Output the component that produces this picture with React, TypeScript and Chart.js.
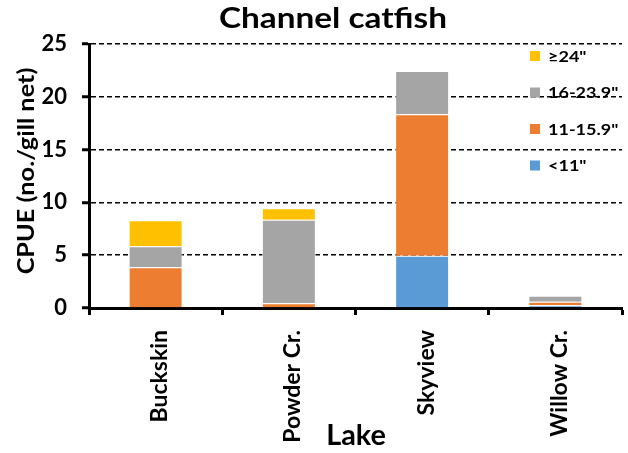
import React, { useEffect, useRef } from "react";
import { Chart, registerables } from "chart.js";

Chart.register(...registerables);

const lakes = ["Buckskin", "Powder Cr.", "Skyview", "Willow Cr."];
const sizeClasses = ['<11"', '11-15.9"', '16-23.9"', '\u226524"'];
const under11 = [0, 0, 4.95, 0.25];
const from11to15 = [3.85, 0.45, 13.4, 0.35];
const from16to23 = [2.0, 7.9, 4.1, 0.55];
const over24 = [2.45, 1.1, 0, 0];
const seriesColors = ["#5B9BD5", "#ED7D31", "#A5A5A5", "#FFC000"];
const yTicks = [0, 5, 10, 15, 20, 25];

const FONT = "Lato, 'DejaVu Sans', sans-serif";

function stretchedText(ctx: any, text: string, x: number, y: number, sx: number) {
  ctx.save();
  ctx.translate(x, y);
  ctx.scale(sx, 1);
  ctx.fillText(text, 0, 0);
  ctx.restore();
}

export default function App() {
  const ref = useRef<HTMLCanvasElement | null>(null);

  useEffect(() => {
    const canvas = ref.current;
    if (!canvas) return;
    const values = [under11, from11to15, from16to23, over24];

    const textPlugin = {
      id: "textPlugin",
      afterDraw(chart: any) {
        const ctx = chart.ctx;
        ctx.save();
        ctx.fillStyle = "#000";
        // main title
        ctx.font = `bold 28px ${FONT}`;
        ctx.textAlign = "center";
        ctx.textBaseline = "middle";
        stretchedText(ctx, "Channel catfish", 333, 19, 1.19);
        // y title
        ctx.save();
        ctx.translate(27, 171);
        ctx.rotate(-Math.PI / 2);
        ctx.font = `bold 23px ${FONT}`;
        stretchedText(ctx, "CPUE (no./gill net)", 0, 0, 1.1);
        ctx.restore();
        // x title
        ctx.font = `bold 28px ${FONT}`;
        stretchedText(ctx, "Lake", 356, 436, 1.03);
        // legend (reversed order)
        const ds = chart.data.datasets;
        ctx.font = `bold 15px ${FONT}`;
        ctx.textAlign = "left";
        for (let i = ds.length - 1, k = 0; i >= 0; i--, k++) {
          const cy = 56 + k * 36.5;
          ctx.fillStyle = ds[i].backgroundColor;
          ctx.fillRect(530, cy - 5, 10, 10);
          ctx.fillStyle = "#000";
          stretchedText(ctx, ds[i].label, 548, cy + 1, 1.2);
        }
        ctx.restore();
      },
    };

    const chart = new Chart(canvas, {
      type: "bar",
      data: {
        labels: lakes,
        datasets: sizeClasses.map((label, i) => ({
          label,
          data: values[i],
          backgroundColor: seriesColors[i],
          borderColor: "rgba(255,255,255,0.7)",
          borderWidth: 1,
          barPercentage: 0.405,
          categoryPercentage: 1,
        })),
      },
      options: {
        responsive: false,
        animation: false,
        devicePixelRatio: 1,
        layout: { padding: { top: 44, right: 6, left: 0, bottom: 0 } },
        plugins: {
          legend: { display: false },
          title: { display: false },
          tooltip: { enabled: false },
        },
        scales: {
          x: {
            stacked: true,
            afterFit(scale: any) {
              scale.height = 145;
            },
            border: { display: true, color: "#000", width: 3 },
            grid: {
              display: true,
              offset: true,
              drawOnChartArea: false,
              drawTicks: true,
              tickLength: 7,
              tickWidth: 3,
              tickColor: "#000",
            },
            ticks: {
              color: "#000",
              font: { family: FONT, weight: "bold", size: 23 },
              maxRotation: 90,
              minRotation: 90,
              padding: 15,
              labelOffset: 4,
            },
          },
          y: {
            stacked: true,
            min: 0,
            max: 25,
            afterFit(scale: any) {
              scale.width = 89;
            },
            afterBuildTicks(scale: any) {
              scale.ticks = yTicks.map((v) => ({ value: v }));
            },
            border: { display: true, color: "#000", width: 3, dash: [5, 3] },
            grid: {
              color: "#000",
              lineWidth: 1.5,
              drawTicks: true,
              tickLength: 7,
              tickWidth: 3,
              tickColor: "#000",
              tickBorderDash: [],
            },
            ticks: {
              color: "#000",
              font: { family: FONT, weight: "bold", size: 22 },
              padding: 15,
            },
          },
        },
      },
      plugins: [textPlugin],
    });

    return () => chart.destroy();
  }, []);

  return (
    <div style={{ position: "absolute", left: 0, top: 0, width: 628, height: 453, background: "#fff" }}>
      <canvas ref={ref} width={628} height={453} />
    </div>
  );
}
